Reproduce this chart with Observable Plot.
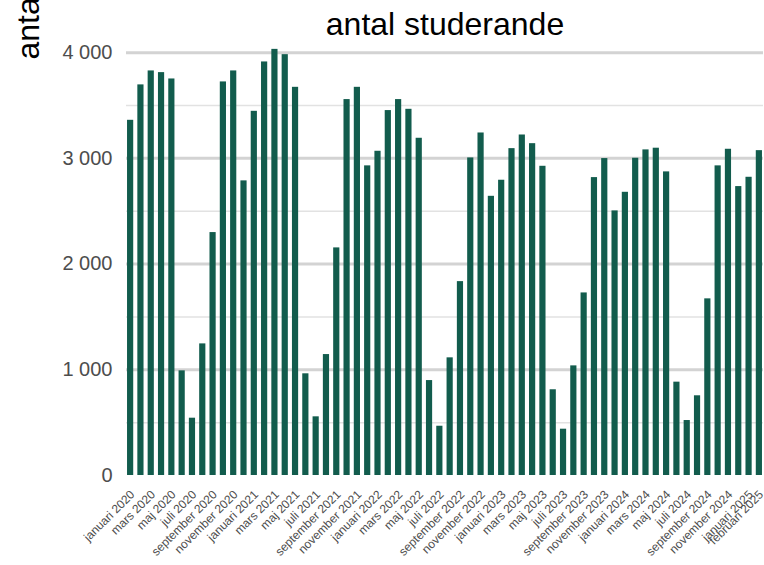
<!DOCTYPE html>
<html>
<head>
<meta charset="utf-8">
<script src="https://cdn.jsdelivr.net/npm/d3@7"></script>
<script src="https://cdn.jsdelivr.net/npm/@observablehq/plot@0.6"></script>
<style>
  html, body { margin: 0; padding: 0; background: #ffffff; }
  #chart { width: 764px; height: 565px; overflow: hidden; }
</style>
</head>
<body>
<div id="chart"></div>
<script>
const months = [
  "januari 2020","februari 2020","mars 2020","april 2020","maj 2020","juni 2020","juli 2020","augusti 2020","september 2020","oktober 2020","november 2020","december 2020",
  "januari 2021","februari 2021","mars 2021","april 2021","maj 2021","juni 2021","juli 2021","augusti 2021","september 2021","oktober 2021","november 2021","december 2021",
  "januari 2022","februari 2022","mars 2022","april 2022","maj 2022","juni 2022","juli 2022","augusti 2022","september 2022","oktober 2022","november 2022","december 2022",
  "januari 2023","februari 2023","mars 2023","april 2023","maj 2023","juni 2023","juli 2023","augusti 2023","september 2023","oktober 2023","november 2023","december 2023",
  "januari 2024","februari 2024","mars 2024","april 2024","maj 2024","juni 2024","juli 2024","augusti 2024","september 2024","oktober 2024","november 2024","december 2024",
  "januari 2025","februari 2025"
];
const values = [
  3360, 3695, 3827, 3811, 3751, 990, 542, 1245, 2298, 3723, 3827, 2787,
  3445, 3912, 4031, 3981, 3672, 962, 555, 1144, 2153, 3556, 3672, 2929,
  3067, 3452, 3556, 3464, 3190, 898, 466, 1113, 1834, 3004, 3240, 2641,
  2793, 3092, 3221, 3139, 2925, 811, 438, 1037, 1727, 2818, 2998, 2503,
  2679, 3001, 3080, 3096, 2872, 883, 520, 754, 1671, 2929, 3086, 2733,
  2821, 3073
];
const xTicks = [
  "januari 2020","mars 2020","maj 2020","juli 2020","september 2020","november 2020",
  "januari 2021","mars 2021","maj 2021","juli 2021","september 2021","november 2021",
  "januari 2022","mars 2022","maj 2022","juli 2022","september 2022","november 2022",
  "januari 2023","mars 2023","maj 2023","juli 2023","september 2023","november 2023",
  "januari 2024","mars 2024","maj 2024","juli 2024","september 2024","november 2024",
  "januari 2025","februari 2025"
];
const yMajor = [1000, 2000, 3000, 4000];
const yMinor = [500, 1500, 2500, 3500];
const yTicks = [0, 1000, 2000, 3000, 4000];
const title = "antal studerande";
const yLabel = "antal";

const data = months.map((m, i) => ({month: m, value: values[i]}));
const fmt = d3.formatLocale({decimal: ",", thousands: " ", grouping: [3], currency: ["", ""]}).format(",");

const barColor = "#125c4d";
const textGrey = "#4d4d4d";

const chart = Plot.plot({
  width: 764,
  height: 565,
  marginLeft: 126,
  marginRight: 1,
  marginTop: 31,
  marginBottom: 90,
  style: {fontFamily: "'Liberation Sans', Arial, sans-serif", background: "#ffffff"},
  x: {type: "band", domain: months, paddingInner: 0.4, paddingOuter: 0.1, round: false, axis: null},
  y: {domain: [0, 4200], axis: null},
  marks: [
    Plot.ruleY(yMinor, {stroke: "#e2e2e2", strokeWidth: 1.5}),
    Plot.ruleY(yMajor, {stroke: "#d3d3d3", strokeWidth: 3}),
    Plot.barY(data, {x: "month", y: "value", fill: barColor}),
    Plot.axisY({ticks: yTicks, tickFormat: fmt, tickSize: 0, tickPadding: 14, fontSize: 20, fill: textGrey, label: null}),
    Plot.axisX({ticks: xTicks, tickRotate: -45, tickSize: 0, tickPadding: 4, dx: 2, dy: 13, fontSize: 12, fill: textGrey, label: null}),
    Plot.text([title], {frameAnchor: "top", text: d => d, dy: 3, lineAnchor: "bottom", fontSize: 32, fill: "#000000"}),
    Plot.text([yLabel], {frameAnchor: "top-left", text: d => d, dx: -88, dy: 28, rotate: -90, textAnchor: "start", lineAnchor: "bottom", fontSize: 32, fill: "#000000"})
  ]
});
document.getElementById("chart").appendChild(chart);
</script>
</body>
</html>
